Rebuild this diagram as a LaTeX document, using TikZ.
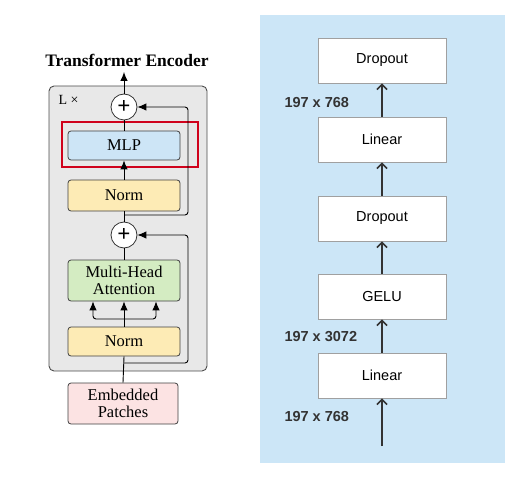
\documentclass[tikz,border=0pt]{standalone}
\usepackage{fontspec}
\setmainfont{Liberation Serif}
\newfontfamily\arialfont{Liberation Sans}
\usepackage{tikz}
\usetikzlibrary{arrows.meta, positioning, calc}
\definecolor{panelblue}{HTML}{CCE6F7}
\definecolor{boxgray}{HTML}{A0A0A0}
\definecolor{encgray}{HTML}{E8E8E8}
\definecolor{mlpblue}{HTML}{CDE5F6}
\definecolor{normyellow}{HTML}{FDEBB5}
\definecolor{mhagreen}{HTML}{D4ECC2}
\definecolor{patchpink}{HTML}{FCE3E3}
\definecolor{mlpred}{HTML}{D0021B}
\tikzset{
  block/.style={draw=black!75, rounded corners=3pt, minimum width=112pt, minimum height=30pt, align=center, font=\fontsize{16.5}{17}\selectfont, line width=0.8pt},
  addop/.style={draw=black!80, circle, fill=white, minimum size=26pt, inner sep=0pt, line width=0.8pt, font=\bfseries\fontsize{23}{23}\selectfont},
  layer/.style={draw=boxgray, fill=white, minimum width=128pt, minimum height=45pt, font=\arialfont\fontsize{14.5}{16}\selectfont, line width=0.9pt},
  dimlabel/.style={anchor=west, font=\arialfont\bfseries\fontsize{14.5}{16}\selectfont, text=black!80},
  flow/.style={-{Latex[length=9pt,width=7.5pt]}, line width=0.9pt, rounded corners=3pt},
  plain/.style={line width=0.9pt},
  mlpflow/.style={-{Straight Barb[length=5pt,width=10pt]}, line width=1.6pt, draw=black!80}
}

\begin{document}
\begin{tikzpicture}[x=1pt, y=-1pt]
        \useasboundingbox (0,0) rectangle (529,478);

        % Encoder block
        \node[draw=black!70, fill=encgray, rounded corners=5pt, line width=0.9pt, minimum width=158pt, minimum height=285pt] (enc) at (128,228.5) {};
        \node[font=\bfseries\fontsize{17.5}{19}\selectfont] (title) at (127,60) {Transformer Encoder};
        \node[anchor=west, font=\fontsize{14}{16}\selectfont] (reps) at (55,100) {L ×};

        \node[addop] (add2) at (124,107) {+};
        \node[block, fill=mlpblue, minimum height=29pt] (mlp) at (124,145.5) {MLP};
        \node[draw=mlpred, line width=2pt, minimum width=136pt, minimum height=45pt] (hl) at (130,144.5) {};
        \node[block, fill=normyellow, minimum height=31pt] (norm2) at (124,195.5) {Norm};
        \node[addop] (add1) at (124,235) {+};
        \node[block, fill=mhagreen, minimum height=41pt] (mha) at (124,280.5) {Multi-Head\\Attention};
        \node[block, fill=normyellow, minimum height=29pt] (norm1) at (124,341.5) {Norm};
        \node[block, fill=patchpink, minimum width=110pt, minimum height=41pt] (patch) at (123,403.5) {Embedded\\Patches};

        \coordinate (skip1) at (124,363);
        \coordinate (skip2) at (124,215);
        \coordinate (fan) at (124,319);
        \coordinate (out) at (124,72);

        % Encoder links
        \draw[plain] (patch.north) -- (norm1.south);
        \draw[flow] (skip1) -- ++(64,0) |- (add1.east);
        \draw[plain] (norm1.north) -- (fan);
        \draw[flow] (fan) -| ($(mha.south)+(-31,0)$);
        \draw[flow] (fan) -| ($(mha.south)+(32,0)$);
        \draw[flow] (fan) -- (mha.south);
        \draw[plain] (mha.north) -- (add1.south);
        \draw[plain] (add1.north) -- (norm2.south);
        \draw[flow] (skip2) -- ++(64,0) |- (add2.east);
        \draw[flow] (norm2.north) -- (mlp.south);
        \draw[plain] (mlp.north) -- (add2.south);
        \draw[flow] (add2.north) -- (out);

        % MLP detail
        \node[fill=panelblue, minimum width=245pt, minimum height=448pt, inner sep=0pt] (panel) at (382.5,239) {};
        \node[layer] (drop2) at (382,60.5) {Dropout};
        \node[layer] (lin2) at (382,139.5) {Linear};
        \node[layer] (drop1) at (382,218.5) {Dropout};
        \node[layer] (gelu) at (382,296.5) {GELU};
        \node[layer] (lin1) at (382,375.5) {Linear};
        \coordinate (mlpin) at (382,446);

        \node[dimlabel] (dimout) at (281,103) {197 x 768};
        \node[dimlabel] (dimhid) at (281,337) {197 x 3072};
        \node[dimlabel] (dimin) at (281,417) {197 x 768};

        \draw[mlpflow] (mlpin) -- (lin1.south);
        \draw[mlpflow] (lin1.north) -- (gelu.south);
        \draw[mlpflow] (gelu.north) -- (drop1.south);
        \draw[mlpflow] (drop1.north) -- (lin2.south);
        \draw[mlpflow] (lin2.north) -- (drop2.south);
\end{tikzpicture}
\end{document}
